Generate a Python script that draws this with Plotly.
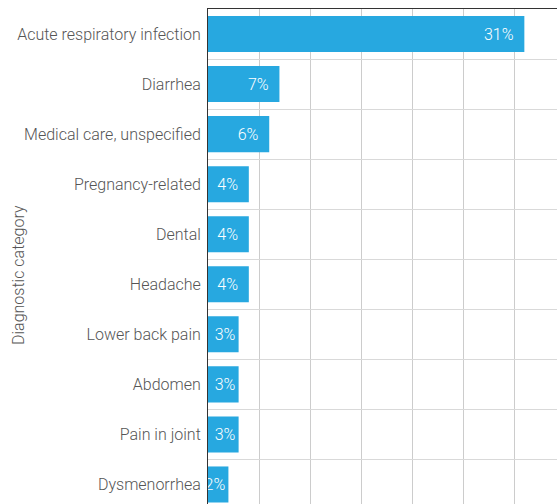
import plotly.graph_objects as go

categories = ["Acute respiratory infection", "Diarrhea", "Medical care, unspecified",
              "Pregnancy-related", "Dental", "Headache", "Lower back pain",
              "Abdomen", "Pain in joint", "Dysmenorrhea"]
values = [31, 7, 6, 4, 4, 4, 3, 3, 3, 2]
labels = [f"{v}%" for v in values]

FONT = "Roboto"
FW = 300

# right padding inside the bar end (narrow bars get no extra room)
def padded(lbl, v):
    n = 2 if v >= 4 else 0
    return lbl + "&nbsp;" * n

bar_text = [padded(l, v) for l, v in zip(labels, values)]

W, H = 557, 504
L, T = 208, 9
PW, PH = W - L, H - T

fig = go.Figure(go.Bar(
    x=values, y=categories, orientation="h",
    marker=dict(color="#27a8e0", line=dict(width=0)),
    width=0.72,
    text=bar_text, textposition="inside", insidetextanchor="end",
    constraintext="none", textangle=0,
    textfont=dict(color="#ffffff", size=16, family=FONT, weight=FW),
    hoverinfo="skip",
))

fig.update_layout(
    width=W, height=H,
    margin=dict(l=L, r=0, t=T, b=0, pad=0),
    paper_bgcolor="white", plot_bgcolor="white",
    showlegend=False,
    font=dict(family=FONT, color="#555555", size=16, weight=FW),
    xaxis=dict(range=[0, 34.2], dtick=5, side="top", showticklabels=False,
               showgrid=True, gridcolor="#cccccc", gridwidth=1,
               zeroline=False, showline=True, linecolor="#333333", linewidth=1,
               ticks=""),
    yaxis=dict(type="category", range=[9.39, -0.5], tickson="boundaries",
               showgrid=True, gridcolor="#d9d9d9", gridwidth=1,
               showline=True, linecolor="#333333", linewidth=1,
               ticks="", ticklabelstandoff=3,
               tickfont=dict(size=16, color="#555555", family=FONT, weight=FW)),
    annotations=[dict(text="Diagnostic category", textangle=-90,
                      xref="paper", yref="paper",
                      x=(18 - L) / PW, y=1 - (275 - T) / PH,
                      xanchor="center", yanchor="middle", showarrow=False,
                      font=dict(size=16, color="#555555", family=FONT, weight=FW))],
)

fig.write_html(
    "out.html",
    config={"displayModeBar": False},
    post_script="document.body.style.margin='0';document.body.style.overflow='hidden';",
)
